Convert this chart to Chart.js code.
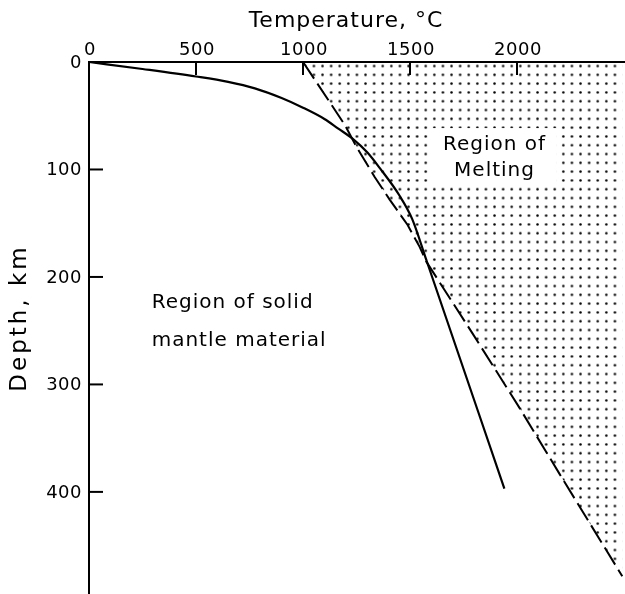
<!DOCTYPE html>
<html>
<head>
<meta charset="utf-8">
<script src="https://cdn.jsdelivr.net/npm/chart.js@4.4.1/dist/chart.umd.min.js"></script>
<style>
  html, body { margin: 0; padding: 0; background: #fff; }
  canvas { display: block; }
</style>
</head>
<body>
<canvas id="chart" width="625" height="594"></canvas>
<script>
// Axis ticks
const tempTicks = [0, 500, 1000, 1500, 2000];
const depthTicks = [0, 100, 200, 300, 400];

// Temperature–depth profile in the mantle (solid curve)
const geothermTemp  = [0, 250, 500, 650, 775, 900, 1000, 1100, 1165, 1230, 1300, 1360, 1450, 1510, 1576, 1941];
const geothermDepth = [0, 6.5, 13.5, 18.5, 24.5, 33.5, 42.5, 53, 62, 71, 84, 99, 124, 146, 184, 397];

// Onset of melting (dashed curve)
const solidusTemp  = [1000, 1195, 1249, 1335, 1405, 1489, 1545, 1577, 1792, 2011, 2198, 2492];
const solidusDepth = [0, 58.4, 78.6, 107, 128, 151.7, 172, 186, 252.5, 321.6, 383, 478.5];

// Text
const xTitle = 'Temperature, °C';
const yTitle = 'Depth, km';
const solidLabel = ['Region of solid', 'mantle material'];
const meltLabel = ['Region of', 'Melting'];

const FONT = '"DejaVu Sans", "Liberation Sans", sans-serif';

function toPoints(xs, ys) {
  return xs.map((v, i) => ({ x: v, y: ys[i] }));
}

// Stipple used for the melting region
function dotPattern(ctx) {
  const tile = document.createElement('canvas');
  tile.width = 9; tile.height = 9;
  const t = tile.getContext('2d');
  t.fillStyle = '#000';
  t.beginPath();
  t.arc(4.5, 4.5, 1.3, 0, Math.PI * 2);
  t.fill();
  const p = ctx.createPattern(tile, 'repeat');
  p.setTransform(new DOMMatrix().scale(8.6 / 9, 8.8 / 9));
  return p;
}

const canvas = document.getElementById('chart');
const ctx = canvas.getContext('2d');

// Inward tick marks and their labels, placed through the chart's scales
const axisDecor = {
  id: 'axisDecor',
  afterDatasetsDraw(chart) {
    const { ctx, chartArea: a, scales: { x, y } } = chart;
    ctx.save();
    ctx.strokeStyle = '#000';
    ctx.lineWidth = 2;
    tempTicks.forEach(v => {
      if (v === 0) return;
      const px = x.getPixelForValue(v);
      ctx.beginPath(); ctx.moveTo(px, a.top); ctx.lineTo(px, a.top + 13); ctx.stroke();
    });
    depthTicks.forEach(v => {
      if (v === 0) return;
      const py = y.getPixelForValue(v);
      ctx.beginPath(); ctx.moveTo(a.left, py); ctx.lineTo(a.left + 14, py); ctx.stroke();
    });

    ctx.fillStyle = '#000';
    ctx.font = '18px ' + FONT;
    ctx.letterSpacing = '0.5px';
    ctx.textAlign = 'center';
    ctx.textBaseline = 'alphabetic';
    tempTicks.forEach(v => {
      ctx.fillText(String(v), x.getPixelForValue(v) + 1, a.top - 7);
    });
    ctx.textAlign = 'right';
    ctx.textBaseline = 'middle';
    depthTicks.forEach(v => {
      ctx.fillText(String(v), a.left - 7, y.getPixelForValue(v) + 1);
    });
    ctx.restore();
  }
};

const annotations = {
  id: 'annotations',
  afterDatasetsDraw(chart) {
    const { ctx, scales: { x, y } } = chart;
    ctx.save();
    ctx.letterSpacing = '1px';
    ctx.font = '20px ' + FONT;

    // clear the stipple behind the melting label
    const rx0 = x.getPixelForValue(1600), rx1 = x.getPixelForValue(2185);
    const ry0 = y.getPixelForValue(61.5), ry1 = y.getPixelForValue(116);
    ctx.fillStyle = '#fff';
    ctx.fillRect(rx0, ry0, rx1 - rx0, ry1 - ry0);

    ctx.fillStyle = '#000';
    ctx.textAlign = 'center';
    ctx.textBaseline = 'alphabetic';
    const cx = x.getPixelForValue(1895);
    ctx.fillText(meltLabel[0], cx, y.getPixelForValue(81.6));
    ctx.fillText(meltLabel[1], cx, y.getPixelForValue(106.5));

    ctx.textAlign = 'left';
    const lx = x.getPixelForValue(293);
    ctx.fillText(solidLabel[0], lx, y.getPixelForValue(228.6));
    ctx.fillText(solidLabel[1], lx, y.getPixelForValue(264.4));
    ctx.restore();
  },
  afterDraw(chart) {
    const { ctx } = chart;
    ctx.save();
    ctx.letterSpacing = '1px';
    ctx.fillStyle = '#000';
    ctx.font = '22px ' + FONT;
    ctx.textAlign = 'center';
    ctx.textBaseline = 'alphabetic';
    ctx.fillText(xTitle, 346, 27);

    ctx.font = '23px ' + FONT;
    ctx.letterSpacing = '3px';
    ctx.translate(26, 318);
    ctx.rotate(-Math.PI / 2);
    ctx.fillText(yTitle, 0, 0);
    ctx.restore();
  }
};

new Chart(ctx, {
  type: 'scatter',
  data: {
    datasets: [
      {
        label: 'solidus',
        data: toPoints(solidusTemp, solidusDepth),
        showLine: true,
        borderColor: '#000',
        borderWidth: 2,
        borderDash: [20, 6],
        pointRadius: 0,
        tension: 0,
        fill: { value: 0 },
        backgroundColor: dotPattern(ctx)
      },
      {
        label: 'geotherm',
        data: toPoints(geothermTemp, geothermDepth),
        showLine: true,
        borderColor: '#000',
        borderWidth: 2.2,
        pointRadius: 0,
        cubicInterpolationMode: 'monotone',
        fill: false
      }
    ]
  },
  options: {
    responsive: false,
    animation: false,
    devicePixelRatio: 1,
    layout: { padding: { left: 0, right: 1, top: 0, bottom: 0 } },
    plugins: {
      legend: { display: false },
      tooltip: { enabled: false }
    },
    scales: {
      x: {
        type: 'linear',
        position: 'top',
        min: 0,
        max: 2500,
        afterBuildTicks: s => { s.ticks = tempTicks.map(v => ({ value: v })); },
        afterFit: s => { s.height = 62; },
        ticks: { display: false },
        grid: { drawOnChartArea: false, drawTicks: false },
        border: { display: true, color: '#000', width: 2 }
      },
      y: {
        type: 'linear',
        reverse: true,
        min: 0,
        max: 495,
        afterBuildTicks: s => { s.ticks = depthTicks.map(v => ({ value: v })); },
        afterFit: s => { s.width = 89; },
        ticks: { display: false },
        grid: { drawOnChartArea: false, drawTicks: false },
        border: { display: true, color: '#000', width: 2 }
      }
    }
  },
  plugins: [axisDecor, annotations]
});
</script>
</body>
</html>
